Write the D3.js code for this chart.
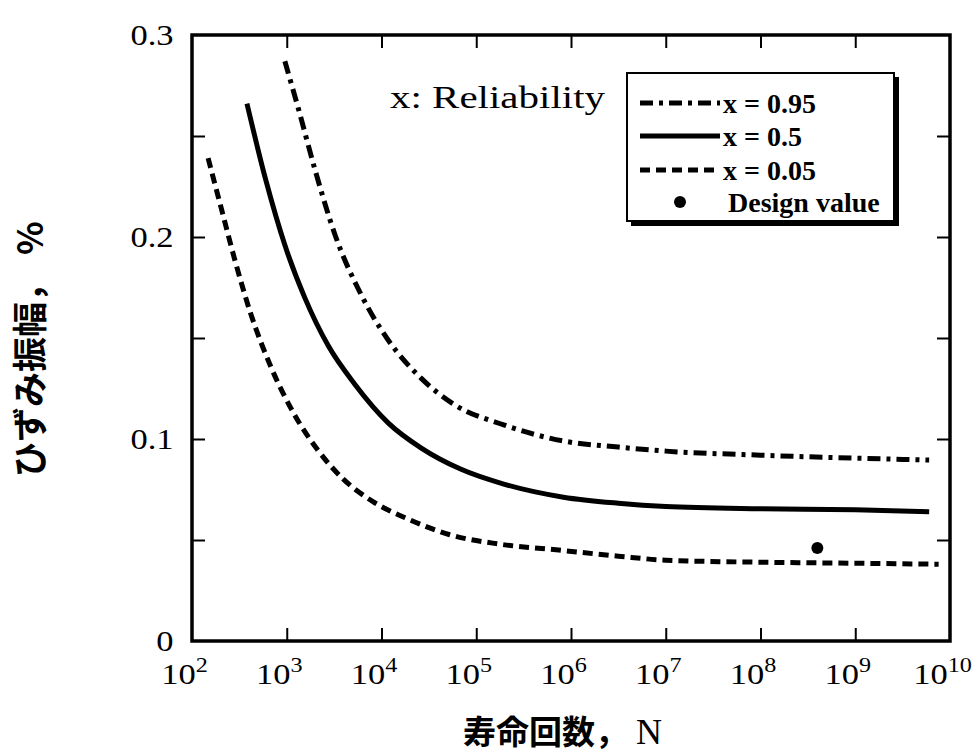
<!DOCTYPE html>
<head>
  <meta charset="utf-8">
  <script src="https://d3js.org/d3.v7.min.js"></script>
  <style>
    body { margin: 0; background: #fff; }
    .tick line { stroke: #000; stroke-width: 2px; }
    .domain { display: none; }
    .tlab { font-family: "Liberation Serif", "Times New Roman", serif; font-size: 30px; fill: #000; }
    .leg { font-family: "Liberation Serif", "Times New Roman", serif; font-size: 28px; font-weight: bold; }
    .jp { font-family: "Noto Sans CJK JP", sans-serif; font-weight: bold; font-size: 33px; }
  </style>
</head>
<body>
  <svg width="979" height="755" id="chart"></svg>
  <script>
    // values (log10 N, strain amplitude %)
    const logN95 = [2.98, 3.12, 3.30, 3.51, 3.79, 4.07, 4.42, 4.77, 5.29, 5.92, 6.5, 7, 8, 9, 9.78];
    const amp95  = [0.287, 0.264, 0.233, 0.201, 0.171, 0.149, 0.130, 0.117, 0.107, 0.099, 0.096, 0.094, 0.092, 0.0905, 0.0896];

    const logN50 = [2.58, 2.78, 2.98, 3.19, 3.44, 3.72, 4.07, 4.42, 4.84, 5.29, 5.92, 6.5, 7, 8, 9, 9.78];
    const amp50  = [0.266, 0.228, 0.196, 0.170, 0.146, 0.127, 0.108, 0.0955, 0.085, 0.0777, 0.0712, 0.0682, 0.0666, 0.0655, 0.065, 0.064];

    const logN05 = [2.17, 2.31, 2.45, 2.62, 2.83, 3.07, 3.32, 3.60, 3.91, 4.30, 4.72, 5.24, 5.87, 6.5, 7, 8, 9, 9.88];
    const amp05  = [0.239, 0.214, 0.189, 0.162, 0.136, 0.113, 0.095, 0.080, 0.069, 0.060, 0.0526, 0.048, 0.045, 0.042, 0.040, 0.039, 0.0385, 0.038];

    const designLogN = [8.6];
    const designAmp = [0.046];

    const xDecades = [2, 3, 4, 5, 6, 7, 8, 9, 10];
    const yMinor = [0.05, 0.1, 0.15, 0.2, 0.25];
    const yLabels = [0, 0.1, 0.2, 0.3];
    const legendNames = ["x = 0.95", "x = 0.5", "x = 0.05", "Design value"];

    const L = 192, R = 950, T = 35, B = 641;
    const svg = d3.select("#chart");

    const x = d3.scaleLog().domain([1e2, 1e10]).range([L, R]);
    const y = d3.scaleLinear().domain([0, 0.3]).range([B, T]);

    const inner = xDecades.slice(1, -1).map(d => Math.pow(10, d));

    // inward ticks on all four sides
    svg.append("g").attr("transform", `translate(0,${B})`)
      .call(d3.axisBottom(x).tickValues(inner).tickSizeInner(-13).tickSizeOuter(0).tickFormat(""));
    svg.append("g").attr("transform", `translate(0,${T})`)
      .call(d3.axisTop(x).tickValues(inner).tickSizeInner(-13).tickSizeOuter(0).tickFormat(""));
    svg.append("g").attr("transform", `translate(${L},0)`)
      .call(d3.axisLeft(y).tickValues(yMinor).tickSizeInner(-13).tickSizeOuter(0).tickFormat(""));
    svg.append("g").attr("transform", `translate(${R},0)`)
      .call(d3.axisRight(y).tickValues(yMinor).tickSizeInner(-13).tickSizeOuter(0).tickFormat(""));

    // y tick labels
    const yl = svg.append("g").attr("transform", `translate(${L},0)`)
      .call(d3.axisLeft(y).tickValues(yLabels).tickSize(0).tickPadding(16)
        .tickFormat(d => d === 0 ? "0" : d3.format(".1f")(d)));
    yl.selectAll("text").attr("class", "tlab").attr("font-size", null).attr("font-family", null)
      .attr("transform", "scale(1.15,1)");

    // x tick labels with superscripts
    const xl = svg.append("g").attr("transform", `translate(0,${B})`)
      .call(d3.axisBottom(x).tickValues(xDecades.map(d => Math.pow(10, d))).tickSize(0).tickFormat(""));
    xl.selectAll("text").each(function(d) {
      const t = d3.select(this).attr("class", "tlab").attr("font-size", null).attr("font-family", null)
        .attr("y", 43).attr("dy", null).attr("x", -7).attr("transform", "scale(1.15,1)");
      t.append("tspan").text("10");
      t.append("tspan").style("font-size", "21px").attr("dy", -12).text(Math.round(Math.log10(d)));
    });

    // frame
    svg.append("rect").attr("x", L).attr("y", T).attr("width", R - L).attr("height", B - T)
      .attr("fill", "none").attr("stroke", "#000").attr("stroke-width", 3.5);

    const line = d3.line().x(d => x(Math.pow(10, d[0]))).y(d => y(d[1])).curve(d3.curveMonotoneX);
    const series = [
      { n: logN95, a: amp95, dash: "13,6,4,6" },
      { n: logN50, a: amp50, dash: null },
      { n: logN05, a: amp05, dash: "10,6" }
    ];
    svg.append("g").selectAll("path").data(series).join("path")
      .attr("d", s => line(s.n.map((v, i) => [v, s.a[i]])))
      .attr("fill", "none").attr("stroke", "#000").attr("stroke-width", 5)
      .attr("stroke-dasharray", s => s.dash);

    svg.append("g").selectAll("circle").data(designLogN).join("circle")
      .attr("cx", d => x(Math.pow(10, d))).attr("cy", (d, i) => y(designAmp[i])).attr("r", 6).attr("fill", "#000");

    // annotation
    svg.append("text").attr("x", 390).attr("y", 108).attr("class", "tlab").style("font-size", "32px")
      .attr("textLength", 215).attr("lengthAdjust", "spacingAndGlyphs").text("x: Reliability");

    // legend box with shadow
    const lg = svg.append("g");
    lg.append("rect").attr("x", 631).attr("y", 77).attr("width", 268).attr("height", 149).attr("fill", "#000");
    lg.append("rect").attr("x", 627).attr("y", 73).attr("width", 267).attr("height", 148)
      .attr("fill", "#fff").attr("stroke", "#000").attr("stroke-width", 2);
    const rowY = [113, 146, 180, 212];
    series.forEach((s, i) => {
      lg.append("line").attr("x1", 640).attr("x2", 720).attr("y1", rowY[i] - 10).attr("y2", rowY[i] - 10)
        .attr("stroke", "#000").attr("stroke-width", 5).attr("stroke-dasharray", s.dash);
    });
    lg.append("circle").attr("cx", 680).attr("cy", rowY[3] - 10).attr("r", 6).attr("fill", "#000");
    lg.selectAll("text").data(legendNames).join("text").attr("class", "leg")
      .attr("x", (d, i) => i === 3 ? 728 : 723).attr("y", (d, i) => rowY[i]).text(d => d);

    // axis titles
    const xt = svg.append("text").attr("x", 463).attr("y", 744);
    xt.append("tspan").attr("class", "jp").text("寿命回数，");
    xt.append("tspan").attr("class", "tlab").style("font-size", "36px").attr("dx", 8).text("N");

    const ytl = svg.append("text").attr("class", "jp").style("font-size", "35px")
      .attr("transform", "translate(43,477) rotate(-90)");
    ytl.append("tspan").text("ひずみ振幅，");
    ytl.append("tspan").attr("dx", 12).text("%");
  </script>
</body>
